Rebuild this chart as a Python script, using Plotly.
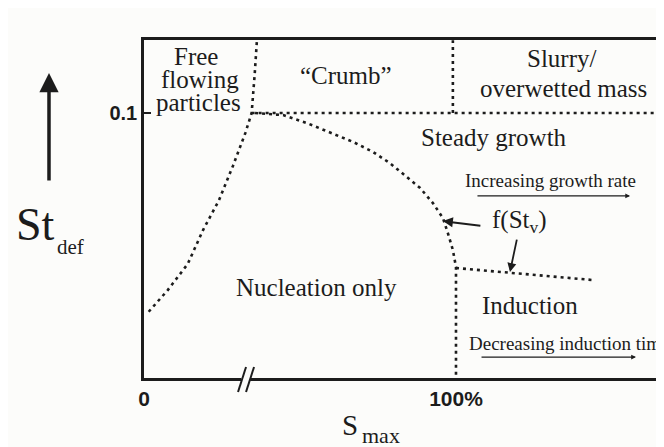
import plotly.graph_objects as go

# axis marks (S_max in %, St_def in its own units)
x_ticks = [0, 100]
x_ticktext = ['0', '100%']
y_ticks = [0.1]
y_ticktext = ['0.1']

# regime boundaries (S_max %, St_def)
free_x = [1.5, 7.5, 14.0, 19.0, 24.0, 28.5, 32.5, 34.5, 35.5, 36.2]
free_y = [0.025, 0.033, 0.043, 0.056, 0.067, 0.080, 0.0925, 0.100, 0.115, 0.1275]

growth_x = [35.6, 44.6, 52.2, 59.6, 67.0, 73.4, 78.8, 84.3, 88.5, 92.6, 95.8, 97.4, 99.0, 100.0, 100.0]
growth_y = [0.100, 0.0992, 0.0962, 0.0928, 0.0891, 0.0853, 0.0811, 0.0758, 0.0717, 0.0660,
            0.0604, 0.0547, 0.0483, 0.0419, 0.0]

upper_x = [34.5, 166.7]
upper_y = [0.1, 0.1]
slurry_x = [99.0, 99.0]
slurry_y = [0.1, 0.1275]
induction_x = [100.0, 143.5]
induction_y = [0.0415, 0.037]

INK = '#1c1c1c'
BG = '#fcfcfa'
SERIF = 'Liberation Serif'
SANS = 'Liberation Sans'
DOTS = '3px,4px'

fig = go.Figure()
for xs, ys in [(free_x, free_y), (growth_x, growth_y), (upper_x, upper_y),
               (slurry_x, slurry_y), (induction_x, induction_y)]:
    fig.add_trace(go.Scatter(x=xs, y=ys, mode='lines', hoverinfo='skip',
                             line=dict(color=INK, width=2.6, dash=DOTS)))

# region labels
labels = [
    ('Free', 16.7, 0.1213, 25),
    ('flowing', 17.9, 0.1126, 25),
    ('particles', 17.6, 0.1039, 25),
    ('\u201cCrumb\u201d', 64.7, 0.1143, 25),
    ('Slurry/', 134.0, 0.1204, 25),
    ('overwetted mass', 134.3, 0.1094, 25),
    ('Steady growth', 112.2, 0.0906, 25),
    ('Increasing growth rate', 130.4, 0.0747, 19),
    ('f(St<sub>v</sub>)', 120.5, 0.0589, 25),
    ('Nucleation only', 55.4, 0.0340, 25),
    ('Induction', 123.7, 0.0275, 25),
]
for text, x, y, size in labels:
    fig.add_annotation(x=x, y=y, text=text, showarrow=False,
                       font=dict(family=SERIF, size=size, color=INK))
fig.add_annotation(x=103.5, y=0.0132, text='Decreasing induction time', showarrow=False,
                   xanchor='left', font=dict(family=SERIF, size=19, color=INK))

# arrows inside the map
arrows = [
    (155.8, 0.0687, 106.4, 0.0687, 1.2, 0.8),
    (157.7, 0.0079, 107.7, 0.0079, 1.2, 0.8),
    (95.8, 0.0592, 108.3, 0.0574, 2.0, 1.0),
    (117.3, 0.0400, 119.6, 0.0528, 1.8, 1.0),
]
for hx, hy, tx, ty, w, s in arrows:
    fig.add_annotation(x=hx, y=hy, ax=tx, ay=ty, axref='x', ayref='y', text='',
                       showarrow=True, arrowhead=2, arrowsize=s, arrowwidth=w,
                       arrowcolor=INK)

# axis titles and the big arrow
fig.add_annotation(xref='paper', yref='paper', x=-0.1827, y=0.9024, ax=0, ay=109,
                   text='', showarrow=True, arrowhead=2, arrowsize=1.1, arrowwidth=3.5,
                   arrowcolor=INK)
titles = [
    ('St', -0.2077, 0.4527, 46),
    ('def', -0.1404, 0.3876, 21),
    ('S', 0.396, -0.140, 29),
    ('max', 0.4558, -0.169, 22),
]
for text, x, y, size in titles:
    fig.add_annotation(xref='paper', yref='paper', x=x, y=y, text=text,
                       xanchor='center', yanchor='middle', showarrow=False,
                       font=dict(family=SERIF, size=size, color=INK))

# axis break
fig.add_shape(type='line', xref='paper', yref='paper', x0=0.187, x1=0.204,
              y0=-0.0037, y1=-0.0037, line=dict(color=BG, width=5))
for x0 in [0.1808, 0.1962]:
    fig.add_shape(type='line', xref='paper', yref='paper', x0=x0, x1=x0 + 0.0154,
                  y0=-0.0414, y1=0.0325, line=dict(color=INK, width=2))

# the page puts the figure 8px in from the top-left corner, so trim those 8px here
fig.update_layout(
    width=656, height=439,
    margin=dict(l=136, r=0, t=32, b=69),
    paper_bgcolor=BG, plot_bgcolor=BG,
    showlegend=False,
    xaxis=dict(range=[0, 166.67], showgrid=False, zeroline=False,
               showline=True, linecolor=INK, linewidth=2.5, mirror=True,
               tickvals=x_ticks, ticktext=x_ticktext, ticks='',
               tickfont=dict(family=SANS, size=21, color=INK, weight='bold')),
    yaxis=dict(range=[0, 0.12755], showgrid=False, zeroline=False,
               showline=True, linecolor=INK, linewidth=2.5,
               tickvals=y_ticks, ticktext=y_ticktext, ticks='inside',
               ticklen=7, tickwidth=1.5, tickcolor=INK,
               tickfont=dict(family=SANS, size=20, color=INK, weight='bold')),
)

fig.write_html('out.html')
